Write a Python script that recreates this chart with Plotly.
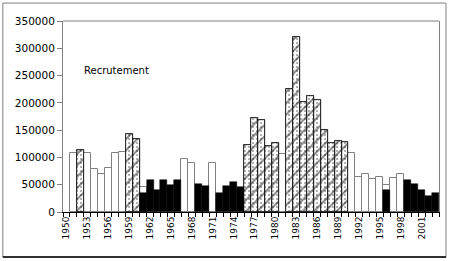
import plotly.graph_objects as go

years = list(range(1950, 2004))
N = None
# white (outlined) bars
white = [N, 109000, N, 108000, 79000, 70000, 80000, 108500, 110000, N,
         N, 45000, N, N, N, N, N, 98000, 90000, N,
         N, 89000, N, N, N, N, N, N, N, N,
         N, 105500, N, N, N, N, N, N, N, N,
         N, 109000, 63500, 69500, 60500, 65000, 49500, 62000, 69500, N,
         N, N, N, N]
# hatched bars
hatched = [N, N, 113500, N, N, N, N, N, N, 142500,
           133500, N, N, N, N, N, N, N, N, N,
           N, N, N, N, N, N, 123500, 171500, 168500, 121000,
           127000, N, 225000, 321000, 201000, 213000, 205000, 149500, 127000, 130000,
           127500, N, N, N, N, N, N, N, N, N,
           N, N, N, N]
# black bars
black = [N, N, N, N, N, N, N, N, N, N,
         N, 34500, 58500, 40500, 58500, 49500, 58500, N, N, 51500,
         48000, N, 34000, 48000, 55500, 45000, N, N, N, N,
         N, N, N, N, N, N, N, N, N, N,
         N, N, N, N, N, N, 40500, N, N, 58500,
         51500, 40500, 29500, 35500]
tick_years = years[::3]
label_text = "Recrutement"

fig = go.Figure()
fig.add_trace(go.Bar(x=years, y=white, width=1,
                     marker=dict(color="white", line=dict(color="#808080", width=1))))
fig.add_trace(go.Bar(x=years, y=hatched, width=1,
                     marker=dict(color="white", line=dict(color="#222", width=0.8),
                                 pattern=dict(shape=".", fgcolor="#333", bgcolor="white",
                                              size=4, solidity=0.2))))
fig.add_trace(go.Bar(x=years, y=hatched, width=1,
                     marker=dict(color="rgba(0,0,0,0)", line=dict(color="#222", width=0.8),
                                 pattern=dict(shape="/", fgcolor="#111", fillmode="overlay",
                                              size=8, solidity=0.25))))
fig.add_trace(go.Bar(x=years, y=black, width=1,
                     marker=dict(color="black", line=dict(color="black", width=0.5))))

fig.update_layout(
    width=450, height=261,
    margin=dict(l=63, r=11, t=21, b=49),
    barmode="overlay", bargap=0,
    showlegend=False,
    plot_bgcolor="white", paper_bgcolor="white",
    font=dict(family="DejaVu Sans", color="black"),
)
fig.update_xaxes(
    range=[years[0] - 0.5, years[-1] + 0.5],
    tickmode="array", tickvals=tick_years, ticktext=[str(y) for y in tick_years],
    tickangle=-90, ticks="", tickfont=dict(size=9),
    showgrid=False, zeroline=False,
    showline=True, linecolor="black", linewidth=1,
    minor=dict(tickmode="array", tickvals=[y - 0.5 for y in years] + [years[-1] + 0.5],
               ticks="outside", ticklen=4, tickcolor="black", showgrid=False),
)
fig.update_yaxes(
    range=[0, 350000], dtick=50000, tickformat="d",
    ticks="outside", ticklen=5, tickcolor="#808080", tickfont=dict(size=10.5),
    showgrid=False, zeroline=False,
    showline=True, linecolor="#808080", linewidth=1, mirror=True,
)
fig.add_shape(type="line", xref="paper", yref="paper", x0=0, x1=1, y0=1, y1=1,
              line=dict(color="#808080", width=1))
# outer frame
fig.add_shape(type="rect", xref="paper", yref="paper",
              x0=-0.16, x1=1.0186, y0=-0.2356, y1=1.094,
              line=dict(color="#808080", width=1))
fig.add_shape(type="line", xref="paper", yref="paper",
              x0=-0.16, x1=1.0186, y0=-0.2356, y1=-0.2356,
              line=dict(color="black", width=1.5))
fig.add_annotation(text=label_text, xref="paper", yref="paper", x=0.05, y=0.743,
                   xanchor="left", yanchor="middle", showarrow=False,
                   font=dict(size=10, color="black"))

fig.write_html("out.html")
